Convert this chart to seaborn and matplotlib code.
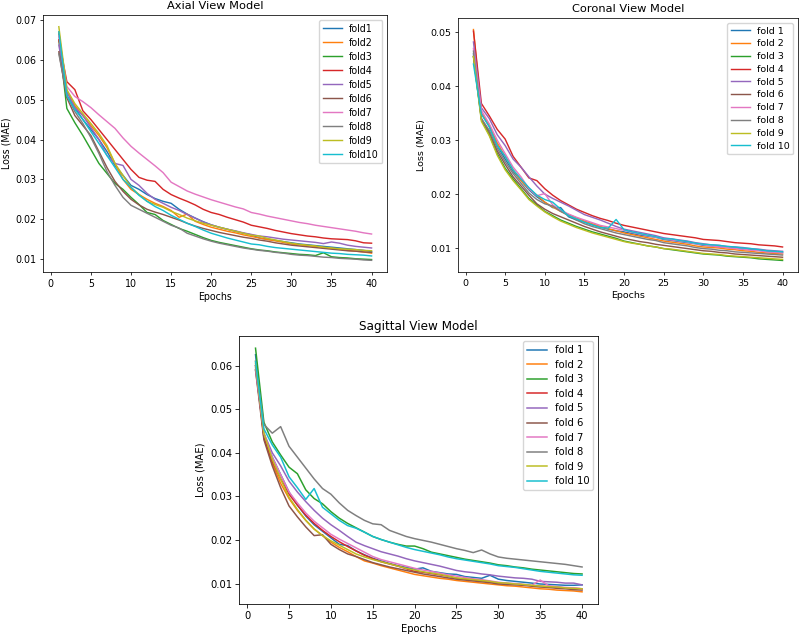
import matplotlib
matplotlib.use('Agg')
import matplotlib.pyplot as plt
import seaborn as sns
import numpy as np

epochs = list(range(1, 41))

# Axial view model losses per fold
axial_labels = ['fold1', 'fold2', 'fold3', 'fold4', 'fold5', 'fold6', 'fold7', 'fold8', 'fold9', 'fold10']
axial_f1 = [.0665, .0510, .0480, .0450, .0425, .0400, .0370, .0335, .0310, .0285, .0275, .0262, .0252, .0245, .0240, .0225, .0213, .0203, .0194, .0186,
            .0180, .0175, .0170, .0165, .0161, .0153, .0150, .0147, .0144, .0141, .0138, .0136, .0134, .0132, .0130, .0128, .0126, .0124, .0122, .0119]
axial_f2 = [.0670, .0520, .0485, .0460, .0435, .0410, .0380, .0340, .0300, .0275, .0262, .0250, .0240, .0232, .0222, .0205, .0213, .0195, .0187, .0180,
            .0175, .0170, .0166, .0161, .0157, .0153, .0149, .0146, .0142, .0138, .0136, .0134, .0132, .0129, .0127, .0125, .0122, .0120, .0118, .0115]
axial_f3 = [.0650, .0478, .0442, .0410, .0375, .0340, .0315, .0290, .0275, .0255, .0237, .0217, .0212, .0197, .0187, .0177, .0170, .0162, .0154, .0147,
            .0142, .0138, .0134, .0130, .0126, .0123, .0121, .0118, .0116, .0114, .0112, .0111, .0109, .0116, .0106, .0104, .0103, .0101, .0100, .0099]
axial_f4 = [.0650, .0545, .0525, .0472, .0450, .0425, .0400, .0375, .0350, .0325, .0305, .0298, .0295, .0275, .0262, .0253, .0245, .0236, .0225, .0217,
            .0212, .0205, .0199, .0193, .0185, .0181, .0177, .0172, .0168, .0164, .0161, .0158, .0156, .0153, .0151, .0150, .0149, .0146, .0141, .0140]
axial_f5 = [.0637, .0520, .0480, .0460, .0430, .0400, .0360, .0340, .0335, .0300, .0285, .0265, .0250, .0240, .0230, .0222, .0212, .0203, .0193, .0186,
            .0180, .0175, .0171, .0166, .0162, .0158, .0156, .0153, .0150, .0148, .0146, .0144, .0142, .0139, .0143, .0140, .0135, .0132, .0130, .0128]
axial_f6 = [.0620, .0505, .0460, .0435, .0410, .0370, .0330, .0295, .0270, .0250, .0236, .0225, .0218, .0212, .0205, .0198, .0190, .0183, .0177, .0172,
            .0167, .0163, .0159, .0155, .0152, .0148, .0145, .0141, .0138, .0135, .0133, .0131, .0129, .0127, .0125, .0123, .0121, .0120, .0118, .0117]
axial_f7 = [.0660, .0533, .0508, .0495, .0480, .0462, .0445, .0428, .0404, .0383, .0366, .0350, .0334, .0317, .0293, .0282, .0271, .0263, .0256, .0249,
            .0243, .0237, .0231, .0226, .0217, .0213, .0208, .0204, .0200, .0196, .0192, .0189, .0185, .0182, .0179, .0176, .0173, .0170, .0166, .0163]
axial_f8 = [.0615, .0510, .0470, .0440, .0405, .0365, .0320, .0285, .0255, .0235, .0225, .0215, .0205, .0195, .0185, .0178, .0165, .0158, .0151, .0145,
            .0140, .0136, .0132, .0128, .0125, .0122, .0120, .0117, .0115, .0112, .0110, .0109, .0107, .0105, .0104, .0102, .0101, .0100, .0098, .0097]
axial_f9 = [.0683, .0525, .0490, .0465, .0440, .0415, .0385, .0340, .0310, .0280, .0262, .0245, .0237, .0230, .0220, .0212, .0203, .0196, .0190, .0185,
            .0180, .0175, .0170, .0165, .0160, .0158, .0152, .0148, .0144, .0140, .0137, .0135, .0133, .0130, .0128, .0126, .0125, .0124, .0122, .0121]
axial_f10 = [.0670, .0510, .0475, .0450, .0420, .0390, .0360, .0330, .0300, .0280, .0260, .0245, .0232, .0222, .0210, .0200, .0190, .0182, .0173, .0165,
             .0159, .0153, .0148, .0143, .0138, .0136, .0132, .0129, .0127, .0125, .0123, .0121, .0119, .0117, .0115, .0114, .0112, .0111, .0110, .0108]

# Coronal view model losses per fold
coronal_labels = ['fold 1', 'fold 2', 'fold 3', 'fold 4', 'fold 5', 'fold 6', 'fold 7', 'fold 8', 'fold 9', 'fold 10']
coronal_f1 = [.0460, .0350, .0325, .0290, .0265, .0242, .0225, .0208, .0195, .0185, .0175, .0175, .0158, .0152, .0148, .0143, .0139, .0135, .0132, .0130,
              .0127, .0124, .0122, .0120, .0116, .0114, .0112, .0110, .0108, .0105, .0104, .0102, .0101, .0100, .0098, .0097, .0096, .0094, .0093, .0092]
coronal_f2 = [.0505, .0350, .0328, .0295, .0270, .0245, .0225, .0210, .0198, .0185, .0176, .0168, .0162, .0156, .0150, .0145, .0140, .0136, .0132, .0128,
              .0125, .0122, .0119, .0116, .0113, .0111, .0109, .0107, .0104, .0102, .0101, .0100, .0098, .0097, .0095, .0094, .0092, .0091, .0090, .0089]
coronal_f3 = [.0455, .0338, .0310, .0275, .0248, .0228, .0210, .0192, .0180, .0168, .0160, .0152, .0146, .0140, .0135, .0130, .0126, .0122, .0118, .0113,
              .0110, .0107, .0104, .0102, .0099, .0097, .0095, .0093, .0091, .0089, .0088, .0087, .0085, .0084, .0083, .0082, .0080, .0079, .0078, .0077]
coronal_f4 = [.0502, .0368, .0345, .0320, .0302, .0270, .0250, .0230, .0225, .0210, .0198, .0188, .0180, .0172, .0166, .0160, .0155, .0151, .0146, .0142,
              .0139, .0136, .0133, .0130, .0127, .0125, .0123, .0121, .0119, .0116, .0115, .0114, .0112, .0110, .0109, .0108, .0106, .0105, .0104, .0102]
coronal_f5 = [.0482, .0360, .0340, .0310, .0290, .0265, .0250, .0232, .0215, .0200, .0192, .0185, .0178, .0170, .0162, .0157, .0152, .0146, .0140, .0135,
              .0132, .0129, .0126, .0123, .0119, .0117, .0115, .0113, .0110, .0108, .0106, .0105, .0103, .0102, .0101, .0099, .0098, .0096, .0095, .0094]
coronal_f6 = [.0455, .0340, .0315, .0280, .0255, .0232, .0215, .0198, .0182, .0172, .0164, .0158, .0152, .0146, .0140, .0135, .0130, .0126, .0122, .0118,
              .0115, .0112, .0110, .0107, .0105, .0103, .0101, .0099, .0097, .0095, .0094, .0092, .0091, .0089, .0088, .0087, .0086, .0085, .0084, .0083]
coronal_f7 = [.0470, .0355, .0330, .0300, .0275, .0250, .0232, .0210, .0197, .0201, .0180, .0170, .0163, .0157, .0152, .0147, .0142, .0139, .0136, .0133,
              .0129, .0126, .0123, .0120, .0117, .0115, .0113, .0111, .0108, .0106, .0104, .0102, .0101, .0099, .0098, .0096, .0095, .0093, .0092, .0091]
coronal_f8 = [.0465, .0340, .0318, .0285, .0260, .0238, .0220, .0202, .0190, .0182, .0178, .0168, .0160, .0152, .0145, .0140, .0136, .0132, .0128, .0125,
              .0122, .0119, .0116, .0114, .0110, .0108, .0106, .0104, .0101, .0099, .0098, .0096, .0095, .0093, .0092, .0091, .0090, .0089, .0088, .0087]
coronal_f9 = [.0455, .0335, .0308, .0272, .0245, .0225, .0208, .0190, .0178, .0167, .0158, .0150, .0144, .0138, .0133, .0128, .0124, .0120, .0116, .0112,
              .0109, .0107, .0104, .0102, .0099, .0098, .0096, .0094, .0092, .0090, .0089, .0088, .0086, .0085, .0084, .0083, .0082, .0081, .0080, .0079]
coronal_f10 = [.0441, .0348, .0325, .0290, .0270, .0245, .0228, .0212, .0198, .0190, .0185, .0172, .0160, .0154, .0148, .0143, .0138, .0137, .0153, .0134,
               .0130, .0127, .0124, .0121, .0117, .0117, .0114, .0112, .0109, .0107, .0106, .0105, .0103, .0102, .0100, .0099, .0097, .0095, .0094, .0093]

# Sagittal view model losses per fold
sagittal_labels = coronal_labels
sagittal_f1 = [.0625, .0440, .0390, .0350, .0310, .0280, .0255, .0235, .0220, .0205, .0190, .0187, .0175, .0166, .0158, .0152, .0146, .0141, .0137, .0133,
               .0136, .0128, .0125, .0122, .0121, .0116, .0114, .0112, .0119, .0110, .0107, .0105, .0103, .0101, .0099, .0098, .0097, .0096, .0096, .0097]
sagittal_f2 = [.0610, .0435, .0375, .0330, .0295, .0268, .0245, .0225, .0210, .0195, .0183, .0173, .0162, .0152, .0147, .0141, .0136, .0131, .0126, .0121,
               .0118, .0115, .0112, .0110, .0107, .0105, .0103, .0101, .0099, .0097, .0095, .0094, .0092, .0090, .0088, .0087, .0085, .0084, .0083, .0081]
sagittal_f3 = [.0640, .0470, .0425, .0395, .0367, .0352, .0315, .0295, .0283, .0265, .0250, .0238, .0228, .0218, .0208, .0201, .0195, .0190, .0186, .0186,
               .0180, .0172, .0168, .0164, .0160, .0156, .0153, .0150, .0147, .0143, .0141, .0138, .0136, .0133, .0131, .0129, .0127, .0125, .0123, .0122]
sagittal_f4 = [.0600, .0435, .0380, .0340, .0305, .0280, .0257, .0238, .0222, .0208, .0196, .0185, .0175, .0165, .0157, .0150, .0145, .0140, .0134, .0128,
               .0126, .0123, .0120, .0117, .0112, .0110, .0108, .0106, .0104, .0101, .0100, .0099, .0097, .0095, .0094, .0093, .0091, .0090, .0089, .0088]
sagittal_f5 = [.0590, .0445, .0400, .0370, .0335, .0310, .0288, .0268, .0250, .0235, .0222, .0208, .0195, .0187, .0180, .0173, .0168, .0163, .0157, .0152,
               .0148, .0144, .0140, .0135, .0130, .0127, .0125, .0122, .0120, .0117, .0115, .0113, .0112, .0110, .0105, .0104, .0103, .0101, .0101, .0097]
sagittal_f6 = [.0590, .0430, .0370, .0320, .0278, .0253, .0230, .0210, .0212, .0190, .0178, .0168, .0162, .0155, .0148, .0143, .0138, .0134, .0130, .0126,
               .0122, .0119, .0116, .0113, .0110, .0108, .0106, .0104, .0102, .0099, .0098, .0097, .0096, .0094, .0092, .0091, .0089, .0088, .0086, .0085]
sagittal_f7 = [.0595, .0445, .0390, .0350, .0310, .0285, .0262, .0243, .0228, .0213, .0202, .0192, .0182, .0172, .0162, .0155, .0150, .0145, .0140, .0135,
               .0131, .0128, .0124, .0120, .0117, .0114, .0111, .0109, .0106, .0103, .0101, .0100, .0098, .0096, .0108, .0095, .0093, .0091, .0090, .0088]
sagittal_f8 = [.0600, .0465, .0445, .0460, .0415, .0390, .0365, .0340, .0318, .0305, .0285, .0268, .0256, .0245, .0237, .0235, .0222, .0215, .0208, .0203,
               .0199, .0195, .0190, .0185, .0180, .0176, .0171, .0177, .0168, .0161, .0158, .0156, .0154, .0152, .0150, .0148, .0146, .0144, .0141, .0138]
sagittal_f9 = [.0605, .0445, .0385, .0340, .0298, .0270, .0245, .0225, .0210, .0198, .0188, .0178, .0168, .0161, .0155, .0150, .0145, .0140, .0135, .0131,
               .0127, .0124, .0121, .0117, .0113, .0111, .0109, .0107, .0105, .0102, .0101, .0099, .0098, .0096, .0094, .0093, .0092, .0090, .0089, .0088]
sagittal_f10 = [.0610, .0455, .0418, .0390, .0345, .0320, .0293, .0318, .0275, .0260, .0245, .0233, .0227, .0218, .0208, .0201, .0195, .0189, .0183, .0178,
                .0174, .0170, .0166, .0161, .0157, .0154, .0151, .0148, .0145, .0141, .0139, .0137, .0134, .0131, .0128, .0126, .0124, .0122, .0120, .0119]

axial = [axial_f1, axial_f2, axial_f3, axial_f4, axial_f5, axial_f6, axial_f7, axial_f8, axial_f9, axial_f10]
coronal = [coronal_f1, coronal_f2, coronal_f3, coronal_f4, coronal_f5, coronal_f6, coronal_f7, coronal_f8, coronal_f9, coronal_f10]
sagittal = [sagittal_f1, sagittal_f2, sagittal_f3, sagittal_f4, sagittal_f5, sagittal_f6, sagittal_f7, sagittal_f8, sagittal_f9, sagittal_f10]

colors = sns.color_palette('tab10', 10)

plt.rcParams['font.family'] = ['DejaVu Sans']

fig = plt.figure(figsize=(8, 6.36), dpi=100)
ax1 = fig.add_axes([0.054, 0.5723, 0.430, 0.4041])
ax2 = fig.add_axes([0.5725, 0.5723, 0.425, 0.3994])
ax3 = fig.add_axes([0.299, 0.0503, 0.449, 0.4214])


def draw(ax, series, labels, title, s, spacing):
    # s scales every size the way the three source images were shrunk
    for vals, lab, c in zip(series, labels, colors):
        sns.lineplot(x=epochs, y=vals, ax=ax, color=c, label=lab, linewidth=1.5 * 0.7 * s)
    fs = 10 * 0.7 * s
    ax.set_title(title, fontsize=12 * 0.7 * s, pad=4)
    ax.set_xlabel('Epochs', fontsize=fs, labelpad=2)
    ax.set_ylabel('Loss (MAE)', fontsize=fs, labelpad=3)
    ax.set_xticks([0, 5, 10, 15, 20, 25, 30, 35, 40])
    ax.tick_params(labelsize=fs, length=3.5 * 0.7 * s, width=0.8 * 0.7 * s, pad=2.5)
    for sp in ax.spines.values():
        sp.set_linewidth(0.8 * 0.7 * s)
    ax.legend(loc='upper right', fontsize=fs, handlelength=2.0, borderpad=0.4,
              labelspacing=spacing, handletextpad=0.75, framealpha=0.8)


draw(ax1, axial, axial_labels, 'Axial View Model', 0.98, 0.42)
draw(ax2, coronal, coronal_labels, 'Coronal View Model', 0.975, 0.40)
draw(ax3, sagittal, sagittal_labels, 'Sagittal View Model', 1.03, 0.46)
ax1.set_yticks([0.01, 0.02, 0.03, 0.04, 0.05, 0.06, 0.07])
ax2.set_yticks([0.01, 0.02, 0.03, 0.04, 0.05])
ax3.set_yticks([0.01, 0.02, 0.03, 0.04, 0.05, 0.06])

fig.savefig('out.png', dpi=100)
